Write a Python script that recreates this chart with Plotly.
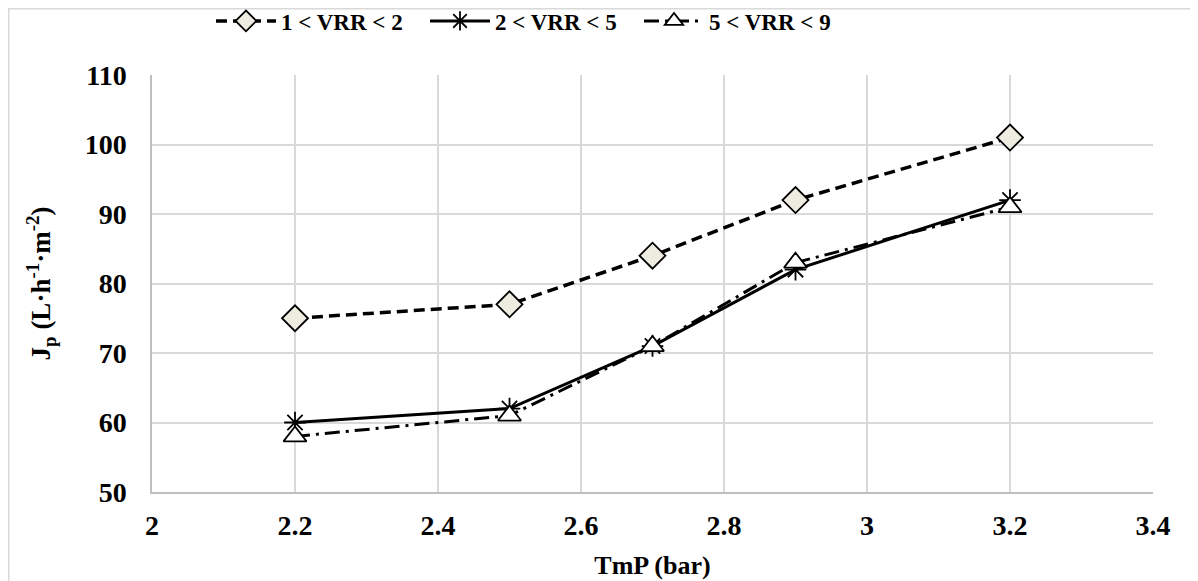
import plotly.graph_objects as go

tmp = [2.2, 2.5, 2.7, 2.9, 3.2]
vrr_1_2 = [75, 77, 84, 92, 101]
vrr_2_5 = [60, 62, 71, 82, 92]
vrr_5_9 = [58, 61, 71, 83, 91]
names = ["<b>1 < VRR < 2</b>", "<b>2 < VRR < 5</b>", "<b>5 < VRR < 9</b>"]
xticks = [2, 2.2, 2.4, 2.6, 2.8, 3, 3.2, 3.4]
yticks = [50, 60, 70, 80, 90, 100, 110]

FONT = "Liberation Serif, Times New Roman, serif"
FS = 28

fig = go.Figure()
fig.add_trace(go.Scatter(
    x=tmp, y=vrr_1_2, name=names[0], mode="lines+markers",
    line=dict(color="black", width=3.5, dash="11px,6px"),
    marker=dict(symbol="diamond", size=20, color="#EEECE1", line=dict(color="black", width=1.8)),
))
fig.add_trace(go.Scatter(
    x=tmp, y=vrr_2_5, name=names[1], mode="lines+markers",
    line=dict(color="black", width=3),
    marker=dict(symbol="asterisk-open", size=18, color="black", line=dict(color="black", width=1.8)),
))
fig.add_trace(go.Scatter(
    x=tmp, y=vrr_5_9, name=names[2], mode="lines+markers",
    line=dict(color="black", width=3, dash="15px,6px,3px,6px"),
    marker=dict(symbol="triangle-up", size=20, color="white", line=dict(color="black", width=1.8)),
))

# figure is drawn 8px in from the page corner
W, H = 1198, 581
pl, pr, pt, pb = 144, 1145, 67, 484
def px2x(px): return (px - pl) / (pr - pl)
def px2y(py): return (pb - py) / (pb - pt)

fig.update_layout(
    width=W, height=H,
    margin=dict(l=pl, r=W - pr, t=pt, b=H - pb, autoexpand=False),
    paper_bgcolor="white", plot_bgcolor="white",
    font=dict(family=FONT, size=FS, color="black"),
    legend=dict(orientation="h", x=px2x(524), xanchor="center", y=px2y(13), yanchor="middle",
                font=dict(family=FONT, size=23, color="black"),
                itemwidth=60, entrywidth=139, traceorder="normal", bgcolor="rgba(0,0,0,0)"),
    showlegend=True,
)
fig.update_xaxes(
    range=[2, 3.4], tickvals=xticks,
    ticktext=["<b>%g</b>" % v for v in xticks],
    showgrid=True, gridcolor="#D9D9D9", gridwidth=1.5,
    showline=True, linecolor="#BFBFBF", linewidth=1.5,
    zeroline=False, ticks="", ticklabelstandoff=8,
    title=dict(text="<b>TmP (bar)</b>", font=dict(family=FONT, size=26), standoff=15),
)
fig.update_yaxes(
    range=[50, 110], tickvals=yticks,
    ticktext=["<b>%d</b>" % v for v in yticks],
    showgrid=True, gridcolor="#D9D9D9", gridwidth=1.5,
    showline=True, linecolor="#BFBFBF", linewidth=1.5,
    zeroline=False, ticks="", ticklabelstandoff=18,
    title=dict(text="<b>J<sub>p</sub> (L·h<sup>-1</sup>·m<sup>-2</sup>)</b>", font=dict(family=FONT, size=27), standoff=26),
)

# outer chart border around the whole figure
fig.add_shape(type="rect", xref="paper", yref="paper",
              x0=px2x(0.75), x1=px2x(W - 0.75), y0=px2y(H - 0.75), y1=px2y(0.75),
              line=dict(color="#D9D9D9", width=1.5), fillcolor="rgba(0,0,0,0)", layer="below")

fig.write_html("out.html")
